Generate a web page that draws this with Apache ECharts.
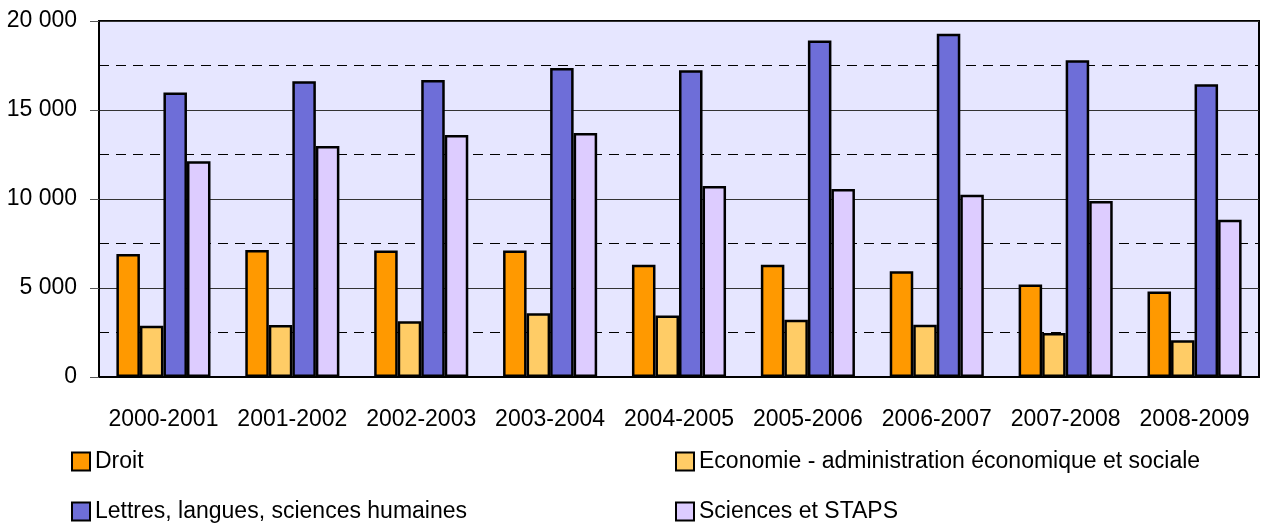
<!DOCTYPE html>
<html>
<head>
<meta charset="utf-8">
<script src="https://cdn.jsdelivr.net/npm/echarts@6/dist/echarts.min.js"></script>
<style>
  html, body { margin: 0; padding: 0; background: #fff; }
  #main { width: 1261px; height: 525px; }
</style>
</head>
<body>
<div id="main"></div>
<script>
// années universitaires
var years = ["2000-2001", "2001-2002", "2002-2003", "2003-2004", "2004-2005",
             "2005-2006", "2006-2007", "2007-2008", "2008-2009"];
var droit = [6910, 7130, 7100, 7100, 6310, 6310, 5940, 5190, 4810];
var economie = [2880, 2920, 3130, 3580, 3460, 3220, 2940, 2470, 2060];
var lettres = [15990, 16610, 16690, 17360, 17230, 18900, 19290, 17790, 16440];
var sciences = [12120, 12980, 13600, 13710, 10730, 10560, 10240, 9890, 8840];

var FONT = "'Liberation Sans', Arial, sans-serif";

var chart = echarts.init(document.getElementById("main"));

function barSerie(name, data, color) {
  return {
    name: name,
    type: "bar",
    data: data,
    barGap: "0%",
    barCategoryGap: "27%",
    itemStyle: { color: color, borderColor: "#000", borderWidth: 2.5 }
  };
}

function legendAt(name, left, top) {
  return {
    data: [name],
    left: left,
    top: top,
    padding: 0,
    icon: "rect",
    itemWidth: 18,
    itemHeight: 18,
    itemStyle: { borderWidth: 2 },
    textStyle: { fontSize: 23, fontFamily: FONT, color: "#000" }
  };
}

chart.setOption({
  animation: false,
  grid: {
    left: 99, right: 2, top: 21, bottom: 148,
    show: true,
    backgroundColor: "#E6E6FF",
    borderColor: "#000",
    borderWidth: 2
  },
  legend: [
    legendAt("Droit", 71, 450),
    legendAt("Economie - administration économique et sociale", 675, 450),
    legendAt("Lettres, langues, sciences humaines", 71, 500),
    legendAt("Sciences et STAPS", 675, 500)
  ],
  xAxis: {
    type: "category",
    data: years,
    axisLine: { lineStyle: { color: "#000", width: 2 } },
    axisTick: { length: 9, lineStyle: { color: "#555" } },
    axisLabel: { fontSize: 23, fontFamily: FONT, color: "#000", margin: 31, interval: 0 }
  },
  yAxis: {
    type: "value",
    min: 0, max: 20000, interval: 5000,
    axisLine: { show: true, lineStyle: { color: "#000", width: 2 } },
    axisTick: { show: true, length: 9, lineStyle: { color: "#555" } },
    axisLabel: {
      fontSize: 23, fontFamily: FONT, color: "#000", margin: 22,
      formatter: function (v) { return String(v).replace(/\B(?=(\d{3})+(?!\d))/g, " "); }
    },
    splitLine: { lineStyle: { color: "#333", width: 1 } },
    minorTick: { show: false, splitNumber: 2 },
    minorSplitLine: { show: true, lineStyle: { color: "#000", width: 1, type: [10, 7] } }
  },
  series: [
    barSerie("Droit", droit, "#FF9900"),
    barSerie("Economie - administration économique et sociale", economie, "#FFCC66"),
    barSerie("Lettres, langues, sciences humaines", lettres, "#6E6ED8"),
    barSerie("Sciences et STAPS", sciences, "#DDCCFF")
  ]
});
</script>
</body>
</html>
